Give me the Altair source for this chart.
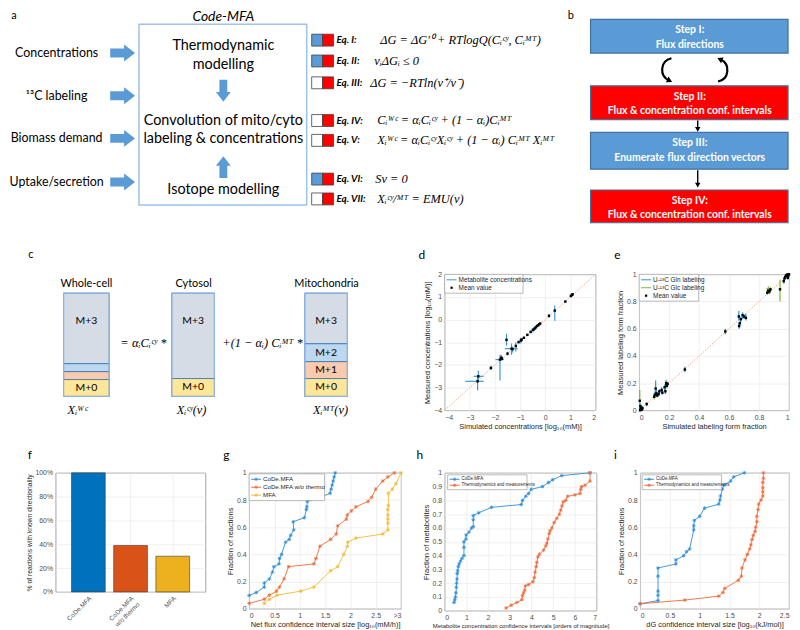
import altair as alt
import pandas as pd

# ============================ DATA ============================
# panel a
a_inputs = ["Concentrations", "¹³C labeling", "Biomass demand", "Uptake/secretion"]
a_box_lines = ["Thermodynamic", "modelling", "Convolution of mito/cyto",
               "labeling & concentrations", "Isotope modelling"]
a_eq_names = ["Eq. I:", "Eq. II:", "Eq. III:", "Eq. IV:", "Eq. V:", "Eq. VI:", "Eq. VII:"]
a_equations = [
    "ΔG = ΔG′⁰ + RTlogQ(Cᵢᶜʸ, Cᵢᴹᵀ)",
    "vᵢΔGᵢ ≤ 0",
    "ΔG = −RTln(v⁺/v⁻)",
    "Cᵢᵂᶜ = αᵢCᵢᶜʸ + (1 − αᵢ)Cᵢᴹᵀ",
    "Xᵢᵂᶜ = αᵢCᵢᶜʸXᵢᶜʸ + (1 − αᵢ) Cᵢᴹᵀ Xᵢᴹᵀ",
    "Sv = 0",
    "Xᵢᶜʸ/ᴹᵀ = EMU(v)",
]
a_eq_thermo = [True, True, False, False, False, True, False]

# panel b
b_steps = ["Step I:", "Step II:", "Step III:", "Step IV:"]
b_desc = ["Flux directions", "Flux & concentration conf. intervals",
          "Enumerate flux direction vectors", "Flux & concentration conf. intervals"]
b_kind = ["direction", "interval", "direction", "interval"]

# panel c
c_compartments = ["Whole-cell", "Cytosol", "Mitochondria"]
c_isotopologues = ["M+3", "M+2", "M+1", "M+0"]
c_frac_wc = [0.683, 0.077, 0.077, 0.163]
c_frac_cy = [0.827, 0.0, 0.0, 0.173]
c_frac_mt = [0.49, 0.173, 0.164, 0.173]
c_terms = ["=", "αᵢCᵢᶜʸ *", "+(1 − αᵢ) Cᵢᴹᵀ *"]
c_vectors = ["Xᵢᵂᶜ", "Xᵢᶜʸ(v)", "Xᵢᴹᵀ(v)"]

# panel d
d_sim = [-2.69, -2.66, -2.16, -1.80, -1.75, -1.72, -1.54, -1.50, -1.34, -1.30, -1.17, -1.06, -0.97, -0.94, -0.85,
         -0.71, -0.58, -0.49, -0.43, -0.38, -0.33, -0.28, -0.24, -0.20, 0.15, 0.38, 0.80, 1.02, 1.06, 1.09]
d_meas = [-2.72, -2.50, -2.13, -1.76, -1.68, -1.72, -0.89, -1.50, -1.28, -1.30, -1.16, -0.99, -0.92, -0.88, -0.80,
          -0.67, -0.54, -0.45, -0.40, -0.34, -0.28, -0.25, -0.20, -0.17, 0.17, 0.40, 0.80, 1.05, 1.09, 1.12]
d_meas_lo = [-3.12, -2.75, -2.22, -2.68, -1.80, -1.80, -1.15, -1.58, -1.55, -1.45, -1.40, -1.05, -1.05, -0.95, -0.85,
             -0.72, -0.60, -0.55, -0.50, -0.42, -0.35, -0.30, -0.25, -0.21, 0.08, -0.05, 0.77, 0.98, 1.04, 1.08]
d_meas_hi = [-2.45, -2.25, -2.03, -1.55, -1.55, -1.65, -0.62, -1.42, -1.05, -1.20, -1.00, -0.93, -0.80, -0.82, -0.75,
             -0.62, -0.48, -0.38, -0.32, -0.28, -0.22, -0.20, -0.16, -0.13, 0.25, 0.62, 0.83, 1.10, 1.13, 1.15]
d_sim_lo = [-3.18, -2.85, -2.18, -1.98, -1.78, -1.75, -1.56, -1.52, -1.60, -1.33, -1.19, -1.08, -0.99, -0.96, -0.87,
            -0.73, -0.60, -0.51, -0.45, -0.40, -0.35, -0.30, -0.26, -0.22, 0.13, 0.36, 0.78, 1.00, 1.04, 1.07]
d_sim_hi = [-2.45, -2.45, -2.14, -1.65, -1.72, -1.69, -1.52, -1.48, -1.10, -1.27, -1.15, -1.04, -0.95, -0.92, -0.83,
            -0.69, -0.56, -0.47, -0.41, -0.36, -0.31, -0.26, -0.22, -0.18, 0.17, 0.40, 0.82, 1.04, 1.08, 1.11]
d_diag = [-4, 2]
d_legend = ["Metabolite concentrations", "Mean value"]

# panel e
e_sim = [0.004, 0.008, 0.010, 0.014, 0.018, 0.022, 0.006, 0.012, 0.050,
         0.100, 0.105, 0.110, 0.115, 0.120, 0.130, 0.135, 0.150, 0.155, 0.170, 0.175, 0.180, 0.182, 0.185, 0.190,
         0.305, 0.575,
         0.665, 0.667, 0.672, 0.678, 0.690, 0.700, 0.712,
         0.855, 0.862, 0.870, 0.876, 0.940,
         0.965, 0.970, 0.975, 0.980, 0.985, 0.990, 0.995, 1.000, 0.992]
e_meas = [0.070, 0.030, 0.010, 0.020, 0.005, 0.015, 0.000, 0.005, 0.046,
          0.100, 0.115, 0.160, 0.125, 0.110, 0.120, 0.140, 0.150, 0.130, 0.170, 0.140, 0.200, 0.190, 0.180, 0.195,
          0.300, 0.580,
          0.690, 0.620, 0.640, 0.670, 0.700, 0.690, 0.680,
          0.865, 0.880, 0.875, 0.890, 0.890,
          0.950, 0.970, 0.980, 0.990, 0.995, 1.000, 0.990, 1.000, 0.975]
e_lo = [0.000, 0.010, 0.000, 0.000, 0.000, 0.000, 0.000, 0.000, 0.030,
        0.080, 0.090, 0.120, 0.100, 0.095, 0.100, 0.125, 0.130, 0.115, 0.145, 0.120, 0.170, 0.175, 0.160, 0.180,
        0.280, 0.560,
        0.660, 0.600, 0.625, 0.650, 0.670, 0.675, 0.660,
        0.850, 0.860, 0.855, 0.870, 0.800,
        0.930, 0.955, 0.965, 0.980, 0.985, 0.990, 0.980, 0.990, 0.960]
e_hi = [0.150, 0.050, 0.030, 0.040, 0.020, 0.030, 0.020, 0.020, 0.060,
        0.120, 0.140, 0.220, 0.150, 0.125, 0.140, 0.155, 0.170, 0.145, 0.190, 0.160, 0.225, 0.205, 0.210, 0.210,
        0.320, 0.600,
        0.730, 0.650, 0.655, 0.690, 0.720, 0.705, 0.710,
        0.900, 0.910, 0.895, 0.905, 0.960,
        0.970, 0.985, 0.995, 1.000, 1.000, 1.000, 1.000, 1.000, 0.990]
e_tracer = ["Glc", "Gln", "Gln", "Glc", "Gln", "Gln", "Glc", "Gln", "Gln",
            "Glc", "Gln", "Gln", "Gln", "Glc", "Gln", "Gln", "Gln", "Gln", "Gln", "Gln", "Gln", "Gln", "Glc", "Gln",
            "Gln", "Gln",
            "Gln", "Gln", "Gln", "Gln", "Gln", "Gln", "Gln",
            "Glc", "Glc", "Gln", "Glc", "Glc",
            "Gln", "Gln", "Gln", "Gln", "Gln", "Gln", "Glc", "Gln", "Gln"]
e_diag = [0, 1]
e_legend = ["U-¹³C Gln labeling", "U-¹³C Glc labeling", "Mean value"]

# panel f
f_methods = ["CoDe.MFA", "CoDe.MFA w/o thermo", "MFA"]
f_pct = [100, 39, 30]

# panel g
g_series = ["CoDe.MFA", "CoDe.MFA w/o thermo", "MFA"]
g_x_codemfa = [0, 0.14, 0.30, 0.30, 0.40, 0.46, 0.49, 0.59, 0.60, 0.64, 0.72, 0.79, 0.82, 0.88, 0.87, 1.09, 1.13,
               1.14, 1.15, 1.41, 1.60, 1.62, 1.64, 1.66, 1.68, 1.70]
g_y_codemfa = [0.098, 0.12, 0.16, 0.19, 0.22, 0.27, 0.31, 0.33, 0.37, 0.40, 0.49, 0.51, 0.54, 0.58, 0.64, 0.67, 0.73,
               0.75, 0.79, 0.82, 0.85, 0.88, 0.91, 0.94, 0.97, 1.0]
g_x_nothermo = [0, 0.30, 0.40, 0.54, 0.60, 0.69, 0.78, 1.28, 1.32, 1.40, 1.61, 1.72, 1.75, 1.92, 1.94, 2.02, 2.11,
                2.35, 2.42, 2.50, 2.64, 2.74, 2.87]
g_y_nothermo = [0.04, 0.07, 0.10, 0.13, 0.16, 0.22, 0.31, 0.33, 0.37, 0.46, 0.51, 0.55, 0.61, 0.66, 0.69, 0.72, 0.75,
                0.79, 0.82, 0.88, 0.94, 0.97, 1.0]
g_x_mfa = [0.30, 0.40, 0.55, 1.02, 1.28, 1.61, 1.75, 1.87, 1.94, 1.95, 2.11, 2.64, 2.74, 2.74, 2.74, 2.74, 2.74,
           2.75, 2.75, 2.83, 2.90, 3.0]
g_y_mfa = [0.04, 0.07, 0.10, 0.13, 0.16, 0.28, 0.31, 0.40, 0.46, 0.49, 0.52, 0.55, 0.58, 0.63, 0.66, 0.69, 0.73,
           0.76, 0.85, 0.88, 0.92, 1.0]

# panel h
h_series = ["CoDe.MFA", "Thermodynamics and measurements"]
h_x_codemfa = [0.43, 0.47, 0.50, 0.52, 0.54, 0.55, 0.57, 0.58, 0.60, 0.63, 0.67, 0.73, 0.80, 0.89, 0.89, 0.89, 0.98,
               0.99, 1.12, 1.24, 1.32, 1.32, 1.32, 1.57, 2.16, 3.53, 3.59, 3.74, 3.87, 3.99, 4.51, 4.79, 4.98, 5.40,
               6.70]
h_y_codemfa = [0.06, 0.08, 0.10, 0.13, 0.17, 0.20, 0.23, 0.27, 0.29, 0.32, 0.34, 0.36, 0.38, 0.40, 0.46, 0.50, 0.52,
               0.55, 0.57, 0.60, 0.61, 0.66, 0.69, 0.71, 0.75, 0.77, 0.80, 0.83, 0.85, 0.88, 0.90, 0.93, 0.95, 0.98,
               1.0]
h_x_thermo = [2.83, 3.07, 3.33, 3.56, 3.59, 3.64, 3.69, 3.72, 3.87, 4.07, 4.13, 4.17, 4.22, 4.25, 4.30, 4.37, 4.56,
              4.66, 4.71, 4.76, 4.82, 4.86, 4.94, 5.05, 5.17, 5.29, 5.35, 5.41, 5.47, 5.58, 5.67, 6.01, 6.24, 6.28,
              6.31, 6.47, 6.70, 6.70]
h_y_thermo = [0.02, 0.04, 0.06, 0.08, 0.11, 0.13, 0.15, 0.18, 0.19, 0.21, 0.24, 0.28, 0.32, 0.35, 0.39, 0.41, 0.44,
              0.47, 0.49, 0.52, 0.56, 0.58, 0.60, 0.64, 0.67, 0.70, 0.73, 0.76, 0.79, 0.80, 0.83, 0.84, 0.85, 0.88,
              0.90, 0.91, 0.94, 1.0]

# panel i
i_series = ["CoDe.MFA", "Thermodynamics and measurements"]
i_x_codemfa = [0, 0.30, 0.30, 0.30, 0.30, 0.30, 0.60, 0.60, 0.73, 0.78, 0.83, 0.90, 0.90, 0.91, 1.0, 1.08, 1.32,
               1.34, 1.35, 1.38, 1.41, 1.52, 1.57, 1.75]
i_y_codemfa = [0.037, 0.06, 0.10, 0.13, 0.24, 0.30, 0.33, 0.36, 0.39, 0.42, 0.44, 0.58, 0.61, 0.65, 0.68, 0.74,
               0.77, 0.80, 0.83, 0.88, 0.91, 0.94, 0.97, 1.0]
i_x_thermo = [0, 0.75, 1.32, 1.39, 1.42, 1.65, 1.70, 1.71, 1.76, 1.80, 1.84, 1.86, 1.88, 1.90, 1.93, 1.94, 1.96,
              1.96, 1.98, 1.99, 2.03, 2.06, 2.06, 2.06, 2.06, 2.07, 2.07]
i_y_thermo = [0.037, 0.064, 0.093, 0.12, 0.15, 0.21, 0.24, 0.30, 0.36, 0.40, 0.44, 0.47, 0.51, 0.54, 0.57, 0.60,
              0.64, 0.68, 0.73, 0.77, 0.80, 0.83, 0.86, 0.89, 0.93, 0.96, 1.0]

# ============================ STYLE ============================
FONT = "Lato"
SERIF = "Liberation Serif"
AXF = "Liberation Sans"
OFF_BLUE = "#5b9bd5"
OFF_RED = "#ff0000"
OUTLINE = "#41719c"
C_BLUE = "#2f8fd8"
C_ORANGE = "#ee6b3b"
C_YELLOW = "#f4bb32"
C_GREEN = "#77b82f"
BAR_COLORS = ["#0072bd", "#d95319", "#edb120"]
ISO_COLORS = {"M+3": "#d6dce5", "M+2": "#bdd7ee", "M+1": "#f8cbad", "M+0": "#ffe699"}
TRACER_COLORS = {"Gln": C_BLUE, "Glc": C_GREEN}

STAR = "M-1,0L1,0M0,-1L0,1M-0.7,-0.7L0.7,0.7M-0.7,0.7L0.7,-0.7"
ARROW_R = "M-1,-0.36L0.12,-0.36L0.12,-0.68L1,0L0.12,0.68L0.12,0.36L-1,0.36Z"
ARROW_D = "M-0.36,-1L0.36,-1L0.36,0.12L0.68,0.12L0,1L-0.68,0.12L-0.36,0.12Z"
ARROW_U = "M-0.36,1L0.36,1L0.36,-0.12L0.68,-0.12L0,-1L-0.68,-0.12L-0.36,-0.12Z"
CURVE_L = "M0.35,-0.9C-0.55,-0.7,-0.6,0.45,0.15,0.8"
HEAD_L = "M0.4,0.93L-0.08,0.96L0.12,0.52Z"
CURVE_R = "M-0.35,0.9C0.55,0.7,0.6,-0.45,-0.15,-0.8"
HEAD_R = "M-0.4,-0.93L0.08,-0.96L-0.12,-0.52Z"
NO_STROKE = alt.ViewBackground(strokeOpacity=0)


def lin(d0, d1):
    return alt.Scale(domain=[d0, d1], range=[0, d1 - d0], nice=False, zero=False)


def at(sx, sy, xf="x", yf="y"):
    return {"x": alt.X(xf, type="quantitative", scale=sx, axis=None),
            "y": alt.Y(yf, type="quantitative", scale=sy, axis=None)}


def texts(df, sx, sy, **kw):
    mk = dict(baseline="middle", align="center", font=FONT, color="black", fontSize=11)
    mk.update(kw)
    return alt.Chart(df).mark_text(**mk).encode(text=alt.Text("t", type="nominal"), **at(sx, sy))


def rects(df, sx, sy, **kw):
    return alt.Chart(df).mark_rect(**kw).encode(
        x=alt.X("x1", type="quantitative", scale=sx, axis=None), x2="x2",
        y=alt.Y("y1", type="quantitative", scale=sy, axis=None), y2="y2",
        fill=alt.Fill("fill", type="nominal", scale=None))


def outline(df, sx, sy, stroke, sw):
    return alt.Chart(df).mark_rect(fillOpacity=0, stroke=stroke, strokeWidth=sw).encode(
        x=alt.X("x1", type="quantitative", scale=sx, axis=None), x2="x2",
        y=alt.Y("y1", type="quantitative", scale=sy, axis=None), y2="y2")


def shapes(df, sx, sy, path, size, color, filled=True, sw=1.0):
    return alt.Chart(df).mark_point(shape=path, size=size, filled=filled, opacity=1, color=color,
                                    strokeWidth=sw).encode(**at(sx, sy))


# ============================ TOP CANVAS (a, b) ============================
sxA, syA = lin(8, 792), lin(8, 232)
inp_y = [51, 94, 137, 181]
box_y = [44, 63, 120, 138, 189]
eq_y = [38, 59, 81, 119, 139, 178, 198]
eq_x = [380, 374, 370, 377, 377, 375, 377]

top_layers = [
    texts(pd.DataFrame({"t": ["a", "b"], "x": [11, 572], "y": [14, 14]}), sxA, syA, fontSize=11),
    texts(pd.DataFrame({"t": ["Code-MFA"], "x": [222], "y": [15]}), sxA, syA, fontSize=14, fontStyle="italic"),
    outline(pd.DataFrame({"x1": [137], "x2": [306], "y1": [22], "y2": [204]}), sxA, syA, "#9dc3e6", 1.5),
    texts(pd.DataFrame({"t": a_inputs, "x": [54] * 4, "y": inp_y}), sxA, syA, fontSize=12.5),
    shapes(pd.DataFrame({"x": [120.5] * 4, "y": inp_y}), sxA, syA, ARROW_R, 625, OFF_BLUE),
    texts(pd.DataFrame({"t": a_box_lines, "x": [222] * 5, "y": box_y}), sxA, syA, fontSize=14.5),
    shapes(pd.DataFrame({"x": [222], "y": [89]}), sxA, syA, ARROW_D, 484, OFF_BLUE),
    shapes(pd.DataFrame({"x": [222], "y": [166]}), sxA, syA, ARROW_U, 484, OFF_BLUE),
]
sq_rows = []
for yy, th in zip(eq_y, a_eq_thermo):
    sq_rows.append({"x1": 311, "x2": 322, "y1": yy - 6, "y2": yy + 6, "fill": OFF_BLUE if th else "white"})
    sq_rows.append({"x1": 322, "x2": 333, "y1": yy - 6, "y2": yy + 6, "fill": OFF_RED})
top_layers += [
    rects(pd.DataFrame(sq_rows), sxA, syA, stroke="#404040", strokeWidth=0.8),
    texts(pd.DataFrame({"t": a_eq_names, "x": [336] * 7, "y": eq_y}), sxA, syA, align="left", fontSize=10,
          fontWeight="bold", fontStyle="italic"),
    texts(pd.DataFrame({"t": a_equations, "x": eq_x, "y": eq_y}), sxA, syA, align="left", font=SERIF,
          fontSize=12.5, fontStyle="italic"),
]
# panel b
b_top = [17, 84, 131, 189]
b_bot = [51, 118, 168, 222]
b_rows = pd.DataFrame({"x1": [592] * 4, "x2": [791] * 4, "y1": b_top, "y2": b_bot,
                       "fill": [OFF_BLUE if k == "direction" else OFF_RED for k in b_kind]})
top_layers += [
    rects(b_rows, sxA, syA, stroke=OUTLINE, strokeWidth=1.2),
    texts(pd.DataFrame({"t": b_steps, "x": [692] * 4, "y": [t + 11 for t in b_top]}), sxA, syA,
          color="white", fontWeight="bold", fontSize=10.5),
    texts(pd.DataFrame({"t": b_desc, "x": [692] * 4, "y": [t + 25.5 for t in b_top]}), sxA, syA,
          color="white", fontWeight="bold", fontSize=10.5),
    alt.Chart(pd.DataFrame({"x": [700, 700], "y1": [119, 169], "y2": [127, 182]})).mark_rule(
        color="black", strokeWidth=1.4).encode(
        x=alt.X("x", type="quantitative", scale=sxA, axis=None),
        y=alt.Y("y1", type="quantitative", scale=syA, axis=None), y2="y2"),
    alt.Chart(pd.DataFrame({"x": [700, 700], "y": [128, 184]})).mark_point(
        shape="triangle-down", size=30, filled=True, opacity=1, color="black").encode(**at(sxA, syA)),
    shapes(pd.DataFrame({"x": [669], "y": [68]}), sxA, syA, CURVE_L, 676, "black", filled=False, sw=2.2),
    shapes(pd.DataFrame({"x": [669], "y": [68]}), sxA, syA, HEAD_L, 676, "black"),
    shapes(pd.DataFrame({"x": [725], "y": [68]}), sxA, syA, CURVE_R, 676, "black", filled=False, sw=2.2),
    shapes(pd.DataFrame({"x": [725], "y": [68]}), sxA, syA, HEAD_R, 676, "black"),
]
top = alt.layer(*top_layers).properties(width=784, height=224, view=NO_STROKE)

# ============================ C CANVAS ============================
sxC, syC = lin(8, 401), lin(273, 410)
box_x1 = [61, 170, 304]
box_x2 = [107, 213, 347]
BOX_TOP, BOX_BOT = 292, 396
seg_rows, lab_rows = [], []
for x1, x2, fr in zip(box_x1, box_x2, [c_frac_wc, c_frac_cy, c_frac_mt]):
    cum = 0.0
    for iso, f in zip(c_isotopologues, fr):
        if f <= 0:
            continue
        y1 = BOX_TOP + cum * (BOX_BOT - BOX_TOP)
        cum += f
        y2 = BOX_TOP + cum * (BOX_BOT - BOX_TOP)
        seg_rows.append({"x1": x1, "x2": x2, "y1": y1, "y2": y2, "fill": ISO_COLORS[iso]})
        if (y2 - y1) > 12:
            lab_rows.append({"t": iso, "x": (x1 + x2) / 2, "y": (y1 + y2) / 2 if iso != "M+3" else y1 + 28})
c_layers = [
    texts(pd.DataFrame({"t": ["c"], "x": [28], "y": [254]}), sxC, syC, fontSize=11),
    texts(pd.DataFrame({"t": c_compartments, "x": [84, 192, 326], "y": [283] * 3}), sxC, syC, fontSize=11),
    rects(pd.DataFrame(seg_rows), sxC, syC, stroke="#2e75b6", strokeWidth=0.8),
    outline(pd.DataFrame({"x1": box_x1, "x2": box_x2, "y1": [BOX_TOP] * 3, "y2": [BOX_BOT] * 3}), sxC, syC,
            "#8fb4e3", 1.2),
    texts(pd.DataFrame(lab_rows), sxC, syC, fontSize=10.5),
    texts(pd.DataFrame({"t": c_terms, "x": [118, 130, 221], "y": [342] * 3}), sxC, syC, align="left",
          font=SERIF, fontSize=12.5, fontStyle="italic"),
    texts(pd.DataFrame({"t": c_vectors, "x": [75, 190, 330], "y": [410] * 3}), sxC, syC,
          font=SERIF, fontSize=12.5, fontStyle="italic"),
]
c_canvas = alt.layer(*c_layers).properties(width=393, height=137, view=NO_STROKE)


# ============================ helpers for plots ============================
def letter(ch, dx, dy):
    return alt.Chart(pd.DataFrame({"t": [ch]})).mark_text(font=FONT, fontSize=12, align="center",
                                                          baseline="middle").encode(
        x=alt.value(dx), y=alt.value(dy), text=alt.Text("t", type="nominal"))


def anchor(yv):
    return alt.Chart(pd.DataFrame({"v": [0]})).mark_rule(color="white", strokeWidth=1).encode(
        x=alt.value(5), x2=alt.value(6), y=alt.value(yv))


def legend(items, x0, y0, w, rh, fs, pad=1.5):
    h = pad * 2 + rh * len(items)
    layers = [alt.Chart(pd.DataFrame({"v": [0]})).mark_rect(fill="white", stroke="#8c8c8c", strokeWidth=0.6).encode(
        x=alt.value(x0), x2=alt.value(x0 + w), y=alt.value(y0), y2=alt.value(y0 + h))]
    for i, (label, color, kind) in enumerate(items):
        yy = y0 + pad + rh * (i + 0.5)
        one = pd.DataFrame({"t": [label]})
        if "line" in kind:
            layers.append(alt.Chart(one).mark_rule(color=color, strokeWidth=1).encode(
                x=alt.value(x0 + 2), x2=alt.value(x0 + 12), y=alt.value(yy)))
        if "star" in kind:
            layers.append(alt.Chart(one).mark_point(shape=STAR, size=12, filled=False, opacity=1, color=color,
                                                    strokeWidth=0.7).encode(x=alt.value(x0 + 7), y=alt.value(yy)))
        if "dot" in kind:
            layers.append(alt.Chart(one).mark_square(size=5, color="black", opacity=1).encode(
                x=alt.value(x0 + 7), y=alt.value(yy)))
        layers.append(alt.Chart(one).mark_text(align="left", baseline="middle", font=AXF, fontSize=fs,
                                               color="#262626").encode(
            x=alt.value(x0 + 14), y=alt.value(yy), text=alt.Text("t", type="nominal")))
    return layers


def make_axis(title, values, fmt="~g", label_expr=None, title_fs=7.5):
    kw = dict(title=title, values=values, format=fmt, grid=True, titleFontSize=title_fs)
    if label_expr:
        kw["labelExpr"] = label_expr
    return alt.Axis(**kw)


# ============================ panel d ============================
d_df = pd.DataFrame({"sim": d_sim, "meas": d_meas, "lo": d_meas_lo, "hi": d_meas_hi,
                     "slo": d_sim_lo, "shi": d_sim_hi})
dsx = alt.Scale(domain=[-4, 2], nice=False, zero=False)
dsy = alt.Scale(domain=[-4, 2], nice=False, zero=False)
dax = make_axis("Simulated concentrations [log₁₀(mM)]", [-4, -3, -2, -1, 0, 1, 2])
day = make_axis("Measured concentrations [log₁₀(mM)]", [-4, -3, -2, -1, 0, 1, 2])
DX = lambda f: alt.X(f, type="quantitative", scale=dsx, axis=dax)
DY = lambda f: alt.Y(f, type="quantitative", scale=dsy, axis=day)
d_layers = [
    alt.Chart(pd.DataFrame({"sim": d_diag, "meas": d_diag})).mark_line(
        color="#f4a582", strokeWidth=1, strokeDash=[1.5, 1.5]).encode(x=DX("sim"), y=DY("meas")),
    alt.Chart(d_df).mark_rule(color="#3a9ad9", strokeWidth=1.2).encode(x=DX("sim"), y=DY("lo"), y2="hi"),
    alt.Chart(d_df).mark_rule(color="#3a9ad9", strokeWidth=1.2).encode(x=DX("slo"), x2="shi", y=DY("meas")),
    alt.Chart(d_df).mark_square(color="black", size=6, opacity=1).encode(x=DX("sim"), y=DY("meas")),
]
d_layers += legend([(d_legend[0], "#3a9ad9", "line"), (d_legend[1], "black", "dot")], 0, 0, 79, 8, 6.5)
d_layers += [letter("d", -23, -19), anchor(-37), anchor(163)]
d_chart = alt.layer(*d_layers).properties(width=152, height=137)

# ============================ panel e ============================
e_df = pd.DataFrame({"sim": e_sim, "meas": e_meas, "lo": e_lo, "hi": e_hi, "tracer": e_tracer})
e_df["color"] = [TRACER_COLORS[t] for t in e_tracer]
esx = alt.Scale(domain=[0, 1], nice=False, zero=False)
esy = alt.Scale(domain=[0, 1], nice=False, zero=False)
eax = make_axis("Simulated labeling form fraction", [0, 0.2, 0.4, 0.6, 0.8, 1])
eay = make_axis("Measured labeling form fraction", [0, 0.2, 0.4, 0.6, 0.8, 1])
EX = lambda f: alt.X(f, type="quantitative", scale=esx, axis=eax)
EY = lambda f: alt.Y(f, type="quantitative", scale=esy, axis=eay)
e_layers = [
    alt.Chart(pd.DataFrame({"sim": e_diag, "meas": e_diag})).mark_line(
        color="#f4a582", strokeWidth=1, strokeDash=[1.5, 1.5]).encode(x=EX("sim"), y=EY("meas")),
    alt.Chart(e_df).mark_rule(strokeWidth=1.2).encode(
        x=EX("sim"), y=EY("lo"), y2="hi", color=alt.Color("color", type="nominal", scale=None)),
    alt.Chart(e_df).mark_square(color="black", size=6, opacity=1).encode(x=EX("sim"), y=EY("meas")),
]
e_layers += legend([(e_legend[0], C_BLUE, "line"), (e_legend[1], C_GREEN, "line"), (e_legend[2], "black", "dot")],
                   0, 0, 60, 8, 6.5)
e_layers += [letter("e", -22, -19)]
e_chart = alt.layer(*e_layers).properties(width=151, height=137)

row2 = alt.hconcat(c_canvas, d_chart, e_chart, spacing=44, bounds="flush")

# ============================ panel f ============================
f_df = pd.DataFrame({"method": f_methods, "pct": f_pct, "color": BAR_COLORS})
f_bars = alt.Chart(f_df).mark_bar(stroke="#3a3a3a", strokeWidth=0.6).encode(
    x=alt.X("method", type="nominal", sort=f_methods,
            scale=alt.Scale(domain=f_methods, paddingInner=0.2, paddingOuter=0.376),
            axis=alt.Axis(title="", labelAngle=315, grid=True, bandPosition=0.5, labelFontSize=6.5,
                          labelExpr="datum.label == 'CoDe.MFA w/o thermo' ? ['CoDe.MFA', 'w/o thermo'] : datum.label")),
    y=alt.Y("pct", type="quantitative", scale=alt.Scale(domain=[0, 100], nice=False),
            axis=alt.Axis(title="% of reactions with known directionality", values=[0, 20, 40, 60, 80, 100],
                          labelExpr="datum.value + '%'", grid=True, titleFontSize=6.8)),
    fill=alt.Fill("color", type="nominal", scale=None),
)
f_chart = alt.layer(f_bars, letter("f", -26, -18)).properties(width=151, height=120)


# ============================ CDF panels ============================
def cdf_chart(names, xs_list, ys_list, colors, xdom, xvals, yvals, xtitle, ytitle,
              legend_box, legend_fs, xlabel_expr=None, xtitle_fs=7.5):
    rows = []
    for name, color, xs, ys in zip(names, colors, xs_list, ys_list):
        for k, (xv, yv) in enumerate(zip(xs, ys)):
            rows.append({"series": name, "color": color, "x": xv, "y": yv, "k": k})
    df = pd.DataFrame(rows)
    sx = alt.Scale(domain=xdom, nice=False, zero=False)
    sy = alt.Scale(domain=[0, 1], nice=False, zero=False)
    ax = make_axis(xtitle, xvals, label_expr=xlabel_expr, title_fs=xtitle_fs)
    ay = make_axis(ytitle, yvals)
    col = alt.Color("color", type="nominal", scale=None)
    X = alt.X("x", type="quantitative", scale=sx, axis=ax)
    Y = alt.Y("y", type="quantitative", scale=sy, axis=ay)
    layers = [
        alt.Chart(df).mark_line(strokeWidth=0.9).encode(x=X, y=Y, color=col, detail="series:N", order="k:Q"),
        alt.Chart(df).mark_point(shape=STAR, size=14, filled=False, opacity=1, strokeWidth=0.8).encode(
            x=X, y=Y, color=col),
    ]
    x0, y0, w, rh = legend_box
    layers += legend([(n, c, "line+star") for n, c in zip(names, colors)], x0, y0, w, rh, legend_fs)
    return layers


g_layers = cdf_chart(g_series, [g_x_codemfa, g_x_nothermo, g_x_mfa], [g_y_codemfa, g_y_nothermo, g_y_mfa],
                     [C_BLUE, C_ORANGE, C_YELLOW], [0, 3], [0, 0.5, 1, 1.5, 2, 2.5, 3], [0, 0.2, 0.4, 0.6, 0.8, 1],
                     "Net flux confidence interval size [log₁₀(mM/h)]", "Fraction of reactions",
                     (0, 1, 76, 8), 6.2, xlabel_expr="datum.value == 3 ? '>3' : datum.label")
g_chart = alt.layer(*g_layers, letter("g", -23, -18), anchor(-31)).properties(width=153, height=137)

h_layers = cdf_chart(h_series, [h_x_codemfa, h_x_thermo], [h_y_codemfa, h_y_thermo], [C_BLUE, C_ORANGE],
                     [0, 7], [0, 1, 2, 3, 4, 5, 6, 7], [i / 10 for i in range(11)],
                     "Metabolite concentration confidence intervals [orders of magnitude]",
                     "Fraction of metabolites", (3, 2, 80, 6), 4.5, xtitle_fs=6)
h_chart = alt.layer(*h_layers, letter("h", -25, -18)).properties(width=153, height=139)

i_layers = cdf_chart(i_series, [i_x_codemfa, i_x_thermo], [i_y_codemfa, i_y_thermo], [C_BLUE, C_ORANGE],
                     [0, 2.5], [0, 0.5, 1, 1.5, 2, 2.5], [0, 0.2, 0.4, 0.6, 0.8, 1],
                     "dG confidence interval size [log₁₀(kJ/mol)]", "Fraction of reactions",
                     (2, 2, 80, 6), 4.5)
i_chart = alt.layer(*i_layers, letter("i", -25, -18)).properties(width=150, height=137)

spacer = alt.Chart(pd.DataFrame({"v": [0]})).mark_point(opacity=0).encode(
    x=alt.value(0), y=alt.value(0)).properties(width=1, height=1, view=NO_STROKE)

row3 = alt.hconcat(spacer, f_chart, g_chart, h_chart, i_chart, spacing=44, bounds="flush")

chart = alt.vconcat(top, row2, row3, spacing=4, padding=0, background="white").configure_axis(
    labelFont=AXF, labelFontSize=7, labelColor="#4d4d4d", titleFont=AXF, titleFontSize=7.5,
    titleFontWeight="normal", titleColor="#262626", gridColor="#e6e6e6", gridWidth=0.6,
    domain=False, ticks=False, labelPadding=3, titlePadding=2,
).configure_view(stroke="#8c8c8c", strokeWidth=0.8)

chart.save("out.html", embed_options={"renderer": "svg", "actions": False})
